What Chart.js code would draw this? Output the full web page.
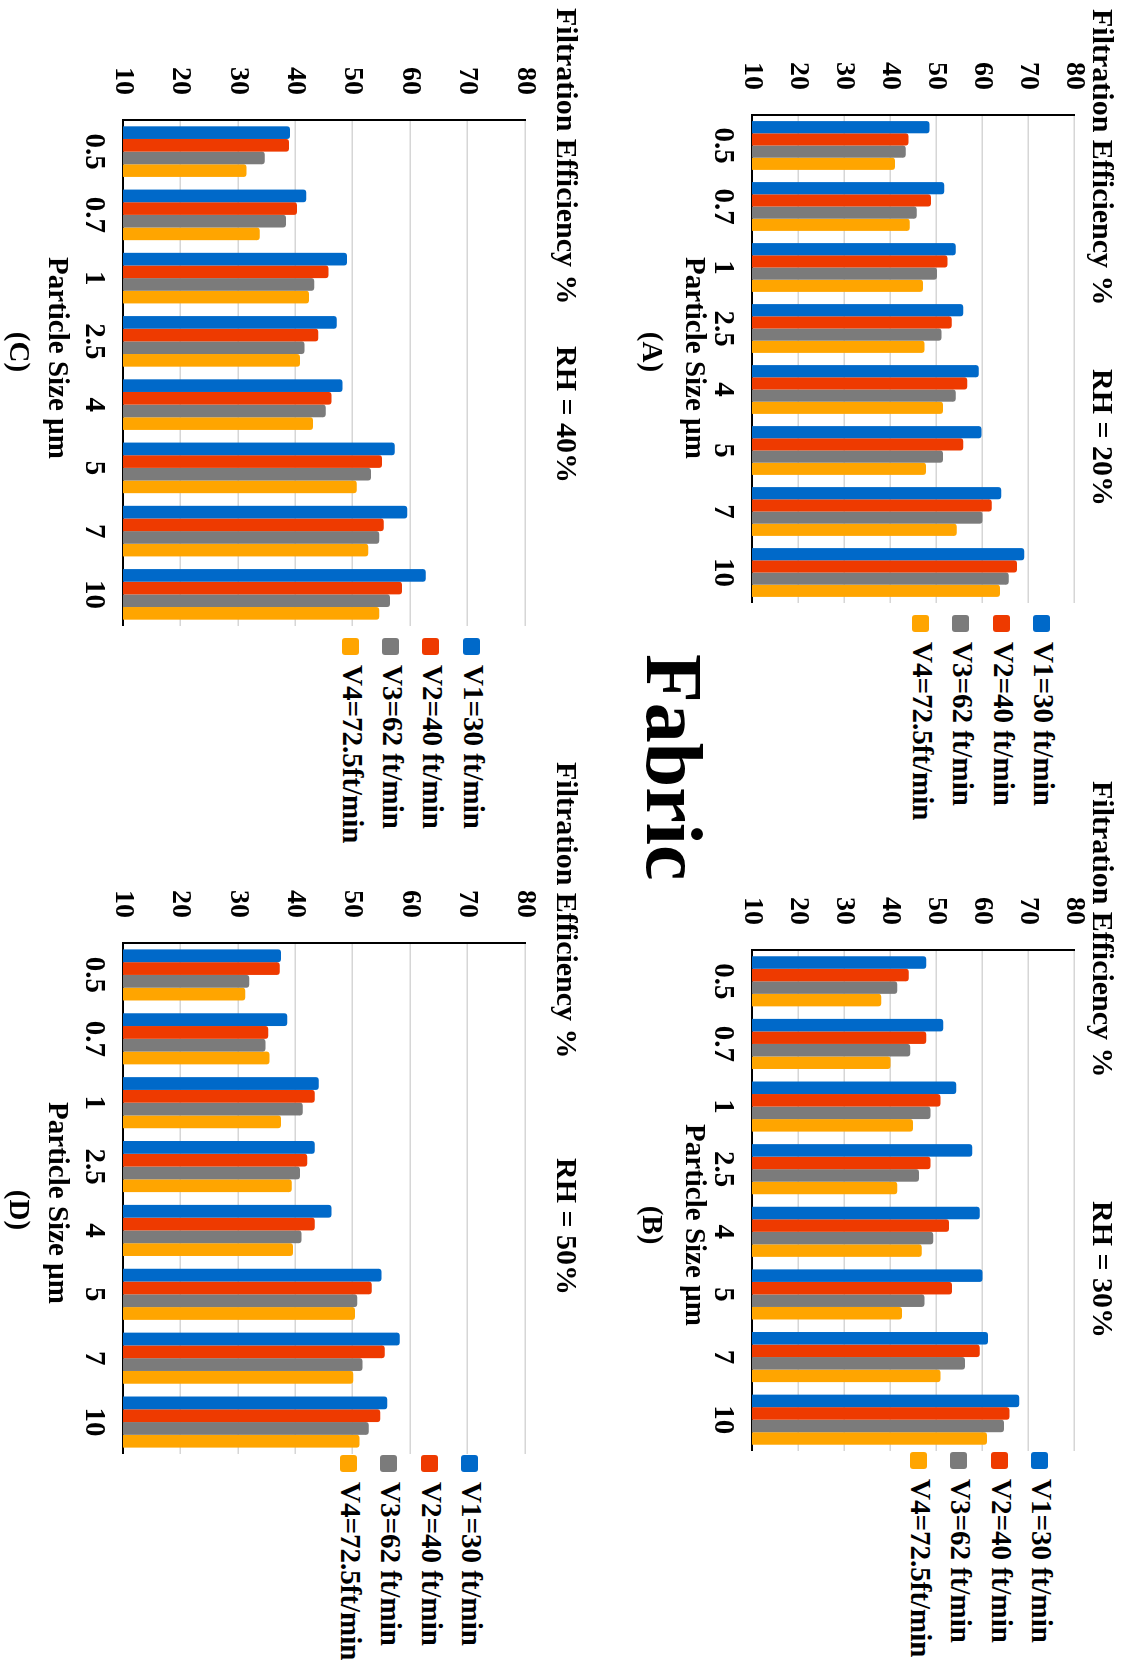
<!DOCTYPE html>
<html>
<head>
<meta charset="utf-8">
<script src="https://cdn.jsdelivr.net/npm/chart.js@4.4.1/dist/chart.umd.min.js"></script>
<style>
  html, body { margin: 0; padding: 0; background: #fff; }
  body { width: 1124px; height: 1664px; overflow: hidden; position: relative; }
  /* The figure is laid out landscape and turned a quarter clockwise onto the page */
  #figure {
    position: absolute; left: 0; top: 0; width: 1664px; height: 1124px;
    transform-origin: 0 0; transform: translate(1124px, 0) rotate(90deg);
    font-family: 'Liberation Serif', 'Times New Roman', serif; font-weight: bold; color: #000;
  }
  #figure canvas { position: absolute; }
  .txt { position: absolute; white-space: nowrap; line-height: 1; }
  .legend { position: absolute; }
  .legend .row { display: flex; align-items: center; }
  .legend .box { width: 17px; height: 17px; border-radius: 3px; position: relative; top: 2px; flex: none; }
  .legend .lbl { font-size: 29px; line-height: 1; margin-left: 10px; white-space: nowrap; }
</style>
</head>
<body>
<div id="figure"></div>
<script>
// ---- data -------------------------------------------------------------
const particleSizes = ['0.5', '0.7', '1', '2.5', '4', '5', '7', '10'];
const seriesNames = ['V1=30 ft/min', 'V2=40 ft/min', 'V3=62 ft/min', 'V4=72.5ft/min'];
const efficiencyTicks = [10, 20, 30, 40, 50, 60, 70, 80];
const rhLabels = ['RH = 20%', 'RH = 30%', 'RH = 40%', 'RH = 50%'];
const panelTags = ['(A)', '(B)', '(C)', '(D)'];
const valueAxisTitle = 'Filtration Efficiency %';
const sizeAxisTitle = 'Particle Size µm';
const figureTitle = 'Fabric';

// filtration efficiency (%) per particle size, RH = 20%
const rh20V1 = [48.6, 51.8, 54.3, 55.9, 59.3, 59.9, 64.2, 69.2];
const rh20V2 = [44.0, 48.9, 52.5, 53.4, 56.8, 55.9, 62.1, 67.6];
const rh20V3 = [43.4, 45.8, 50.2, 51.2, 54.3, 51.5, 60.1, 65.8];
const rh20V4 = [41.1, 44.3, 47.2, 47.5, 51.5, 47.8, 54.5, 63.9];
// RH = 30%
const rh30V1 = [47.9, 51.6, 54.4, 57.9, 59.5, 60.1, 61.3, 68.1];
const rh30V2 = [44.1, 47.9, 51.0, 48.8, 52.8, 53.5, 59.5, 66.0];
const rh30V3 = [41.6, 44.4, 48.8, 46.3, 49.4, 47.5, 56.3, 64.8];
const rh30V4 = [38.1, 40.1, 45.0, 41.6, 46.9, 42.6, 51.0, 61.1];
// RH = 40%
const rh40V1 = [39.1, 41.9, 49.0, 47.2, 48.2, 57.3, 59.5, 62.7];
const rh40V2 = [38.9, 40.3, 45.8, 44.0, 46.3, 55.1, 55.4, 58.6];
const rh40V3 = [34.7, 38.4, 43.3, 41.6, 45.3, 53.2, 54.6, 56.5];
const rh40V4 = [31.5, 33.8, 42.4, 40.8, 43.1, 50.7, 52.7, 54.6];
// RH = 50%
const rh50V1 = [37.5, 38.6, 44.1, 43.4, 46.3, 55.0, 58.2, 56.0];
const rh50V2 = [37.3, 35.3, 43.4, 42.1, 43.4, 53.3, 55.6, 54.8];
const rh50V3 = [32.0, 34.8, 41.3, 40.8, 41.1, 50.8, 51.7, 52.8];
const rh50V4 = [31.3, 35.5, 37.5, 39.4, 39.6, 50.4, 50.1, 51.2];

// ---- styling & layout ---------------------------------------------------
const seriesColors = ['#0069C9', '#EE3A00', '#7B7B7B', '#FFA500'];
const serif = "'Liberation Serif', 'Times New Roman', serif";

const panels = [
  { series: [rh20V1, rh20V2, rh20V3, rh20V4], rh: rhLabels[0], tag: panelTags[0],
    box: { left: 0, top: 0, width: 603, height: 432 }, padTop: 50, axisW: 115, axisH: 60,
    yTitle: { x: 9, base: 31 }, rhAt: { x: 369, base: 31 },
    xTitle: { cx: 358, base: 438 }, tagAt: { cx: 352, base: 481 },
    legend: { left: 615, first: 82.3, step: 40.4 } },
  { series: [rh30V1, rh30V2, rh30V3, rh30V4], rh: rhLabels[1], tag: panelTags[1],
    box: { left: 835, top: 0, width: 616, height: 432 }, padTop: 50, axisW: 115, axisH: 60,
    yTitle: { x: 781, base: 31 }, rhAt: { x: 1201, base: 31 },
    xTitle: { cx: 1225, base: 438 }, tagAt: { cx: 1225, base: 481 },
    legend: { left: 1452, first: 84.7, step: 40.2 } },
  { series: [rh40V1, rh40V2, rh40V3, rh40V4], rh: rhLabels[2], tag: panelTags[2],
    box: { left: 0, top: 540, width: 626, height: 521 }, padTop: 59, axisW: 120, axisH: 60,
    yTitle: { x: 8, base: 567 }, rhAt: { x: 346, base: 567 },
    xTitle: { cx: 358, base: 1075 }, tagAt: { cx: 352, base: 1114 },
    legend: { left: 638, first: 653, step: 40.2 } },
  { series: [rh50V1, rh50V2, rh50V3, rh50V4], rh: rhLabels[3], tag: panelTags[3],
    box: { left: 823, top: 540, width: 631, height: 521 }, padTop: 59, axisW: 120, axisH: 60,
    yTitle: { x: 762, base: 567 }, rhAt: { x: 1158, base: 567 },
    xTitle: { cx: 1203, base: 1075 }, tagAt: { cx: 1210, base: 1114 },
    legend: { left: 1455, first: 654.5, step: 40.3 } }
];

const figure = document.getElementById('figure');

// text placed by its baseline (line-height 1 => baseline sits 0.8375em below the top)
function placeText(str, x, base, size, centered) {
  const d = document.createElement('div');
  d.className = 'txt';
  d.textContent = str;
  d.style.fontSize = size + 'px';
  d.style.top = (base - 0.8375 * size) + 'px';
  d.style.left = x + 'px';
  if (centered) d.style.transform = 'translateX(-50%)';
  figure.appendChild(d);
}

// legend rows built from the chart's own legend items
const htmlLegend = {
  id: 'htmlLegend',
  afterUpdate(chart, args, opts) {
    const host = document.getElementById(opts.containerID);
    host.innerHTML = '';
    const items = chart.options.plugins.legend.labels.generateLabels(chart);
    items.forEach(item => {
      const row = document.createElement('div');
      row.className = 'row';
      row.style.height = opts.step + 'px';
      const sw = document.createElement('span');
      sw.className = 'box';
      sw.style.background = item.fillStyle;
      const lb = document.createElement('span');
      lb.className = 'lbl';
      lb.textContent = item.text;
      row.append(sw, lb);
      host.appendChild(row);
    });
  }
};

Chart.defaults.font.family = serif;
Chart.defaults.font.weight = 'bold';
Chart.defaults.color = '#000';

panels.forEach((p, idx) => {
  const cv = document.createElement('canvas');
  cv.width = p.box.width; cv.height = p.box.height;
  cv.style.left = p.box.left + 'px'; cv.style.top = p.box.top + 'px';
  cv.style.width = p.box.width + 'px'; cv.style.height = p.box.height + 'px';
  figure.appendChild(cv);

  const lg = document.createElement('div');
  lg.className = 'legend';
  lg.id = 'legend' + idx;
  lg.style.left = p.legend.left + 'px';
  lg.style.top = (p.legend.first - 2 - p.legend.step / 2) + 'px';
  figure.appendChild(lg);

  placeText(valueAxisTitle, p.yTitle.x, p.yTitle.base, 30, false);
  placeText(p.rh, p.rhAt.x, p.rhAt.base, 30, false);
  placeText(sizeAxisTitle, p.xTitle.cx, p.xTitle.base, 29, true);
  placeText(p.tag, p.tagAt.cx, p.tagAt.base, 29, true);

  new Chart(cv, {
    type: 'bar',
    data: {
      labels: particleSizes,
      datasets: p.series.map((vals, i) => ({
        label: seriesNames[i],
        data: vals,
        backgroundColor: seriesColors[i],
        borderWidth: 0,
        borderRadius: 3,
        borderSkipped: 'start',
        categoryPercentage: 0.8,
        barPercentage: 1.0
      }))
    },
    options: {
      responsive: false,
      maintainAspectRatio: false,
      animation: false,
      devicePixelRatio: 1,
      layout: { padding: { top: p.padTop, left: 0, right: 0, bottom: 0 } },
      plugins: {
        legend: { display: false },
        tooltip: { enabled: false },
        htmlLegend: { containerID: 'legend' + idx, step: p.legend.step }
      },
      scales: {
        x: {
          grid: { display: false },
          border: { color: '#000', width: 2 },
          ticks: { font: { size: 29, weight: 'bold' }, color: '#000', padding: 4,
                   maxRotation: 0, autoSkip: false },
          afterFit: s => { s.height = p.axisH; }
        },
        y: {
          min: efficiencyTicks[0],
          max: efficiencyTicks[efficiencyTicks.length - 1],
          ticks: { stepSize: efficiencyTicks[1] - efficiencyTicks[0],
                   font: { size: 28, weight: 'bold' }, color: '#000', padding: 25 },
          grid: { color: '#d6d6d6', lineWidth: 1.5, drawTicks: false },
          border: { color: '#000', width: 2 },
          afterFit: s => { s.width = p.axisW; }
        }
      }
    },
    plugins: [htmlLegend]
  });
});

// figure heading between the panels
const head = document.createElement('div');
head.className = 'txt';
head.textContent = figureTitle;
head.style.fontSize = '80px';
head.style.left = '654px';
head.style.top = (477 - 0.8375 * 80) + 'px';
figure.appendChild(head);
</script>
</body>
</html>
